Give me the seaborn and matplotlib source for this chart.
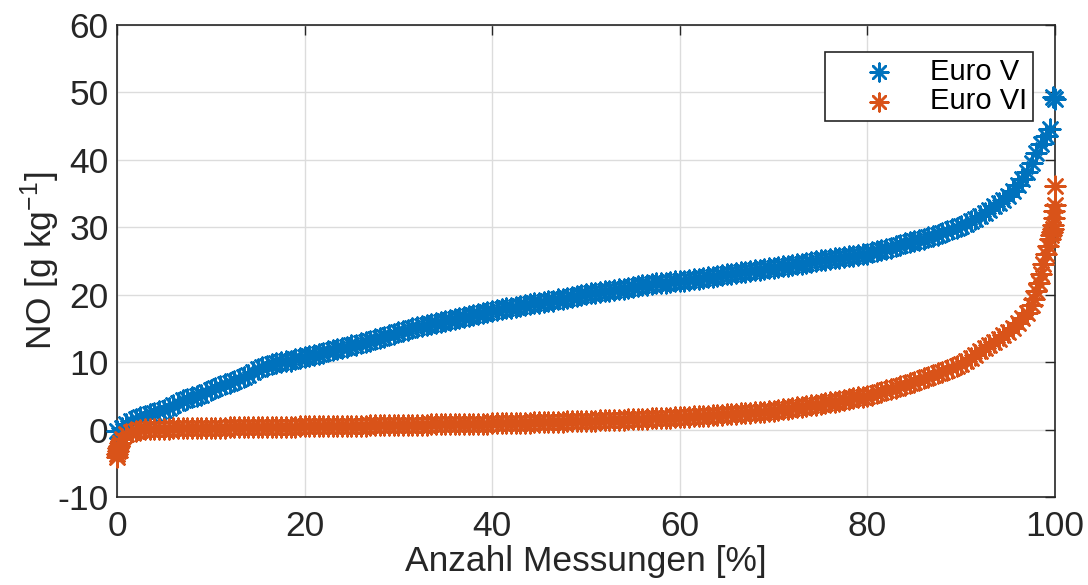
import numpy as np
import pandas as pd
import matplotlib
matplotlib.use("Agg")
import matplotlib.pyplot as plt
import seaborn as sns

# ---------------- data ----------------
series_names = ["Euro V", "Euro VI"]

# Euro V: sorted NO values at 0.5 % steps of "Anzahl Messungen" (0 ... 100 %)
euro5_values = [
    -0.2, 0.3, 0.8, 1.2, 1.5, 1.8, 2.0, 2.3, 2.5, 2.7,
    2.9, 3.2, 3.6, 4.0, 4.4, 4.6, 4.8, 5.0, 5.2, 5.5,
    5.8, 6.1, 6.4, 6.7, 6.9, 7.2, 7.5, 7.8, 8.1, 8.6,
    9.0, 9.3, 9.5, 9.7, 9.8, 10.0, 10.1, 10.2, 10.4, 10.6,
    10.8, 10.9, 11.1, 11.2, 11.4, 11.6, 11.8, 11.9, 12.1, 12.3,
    12.5, 12.6, 12.8, 13.0, 13.2, 13.4, 13.6, 13.8, 14.0, 14.2,
    14.4, 14.6, 14.8, 15.0, 15.2, 15.3, 15.5, 15.6, 15.8, 15.9,
    16.1, 16.2, 16.4, 16.5, 16.7, 16.8, 17.0, 17.2, 17.3, 17.5,
    17.6, 17.7, 17.9, 18.0, 18.1, 18.2, 18.4, 18.5, 18.6, 18.7,
    18.8, 18.9, 19.0, 19.1, 19.3, 19.4, 19.5, 19.6, 19.8, 19.9,
    20.1, 20.2, 20.3, 20.4, 20.5, 20.6, 20.7, 20.8, 20.9, 21.0,
    21.2, 21.3, 21.4, 21.5, 21.6, 21.7, 21.7, 21.8, 21.9, 22.0,
    22.0, 22.1, 22.2, 22.3, 22.4, 22.5, 22.6, 22.7, 22.8, 22.9,
    23.0, 23.1, 23.2, 23.3, 23.4, 23.5, 23.6, 23.7, 23.8, 23.9,
    24.0, 24.1, 24.2, 24.3, 24.4, 24.5, 24.6, 24.7, 24.9, 25.0,
    25.1, 25.2, 25.3, 25.4, 25.5, 25.6, 25.7, 25.8, 25.9, 26.0,
    26.1, 26.3, 26.5, 26.6, 26.8, 27.0, 27.2, 27.4, 27.6, 27.8,
    28.0, 28.1, 28.3, 28.5, 28.7, 28.9, 29.2, 29.4, 29.7, 29.9,
    30.2, 30.5, 30.9, 31.3, 31.7, 32.1, 32.6, 33.1, 33.6, 34.1,
    34.7, 35.4, 36.2, 37.1, 38.2, 39.5, 41.0, 42.3, 43.6, 44.6,
    49.0,
]
euro5_tail_pct = [99.8]
euro5_tail_values = [49.3]

# Euro VI: lowest values (sharp start at 0 %)
euro6_head_pct = [0.0, 0.05, 0.1, 0.15, 0.2, 0.3]
euro6_head_values = [-4.0, -3.6, -3.2, -2.8, -2.4, -2.0]
# Euro VI: sorted NO values at 0.5 % steps from 0.5 % to 99.5 %
euro6_values = [
    -1.4, -0.7, -0.35, -0.15, -0.05, 0.02, 0.06, 0.09, 0.12,
    0.14, 0.16, 0.18, 0.2, 0.21, 0.22, 0.23, 0.24, 0.25, 0.26,
    0.27, 0.28, 0.29, 0.3, 0.31, 0.32, 0.33, 0.34, 0.35, 0.36,
    0.37, 0.38, 0.39, 0.4, 0.41, 0.42, 0.43, 0.44, 0.45, 0.46,
    0.47, 0.48, 0.49, 0.5, 0.51, 0.52, 0.53, 0.54, 0.55, 0.56,
    0.57, 0.58, 0.59, 0.6, 0.61, 0.62, 0.63, 0.64, 0.65, 0.66,
    0.67, 0.68, 0.7, 0.71, 0.72, 0.73, 0.74, 0.76, 0.77, 0.78,
    0.79, 0.8, 0.82, 0.83, 0.84, 0.85, 0.87, 0.88, 0.89, 0.9,
    0.92, 0.93, 0.95, 0.96, 0.98, 0.99, 1.01, 1.02, 1.04, 1.06,
    1.08, 1.1, 1.12, 1.14, 1.16, 1.18, 1.2, 1.22, 1.24, 1.26,
    1.28, 1.3, 1.32, 1.35, 1.37, 1.4, 1.42, 1.45, 1.48, 1.5,
    1.53, 1.56, 1.59, 1.62, 1.65, 1.68, 1.71, 1.74, 1.77, 1.8,
    1.84, 1.88, 1.92, 1.96, 2.0, 2.04, 2.08, 2.12, 2.16, 2.2,
    2.25, 2.3, 2.35, 2.4, 2.45, 2.5, 2.56, 2.62, 2.68, 2.74,
    2.8, 2.9, 3.0, 3.1, 3.2, 3.3, 3.4, 3.5, 3.6, 3.7,
    3.8, 3.92, 4.04, 4.16, 4.28, 4.4, 4.52, 4.64, 4.76, 4.88,
    5.0, 5.2, 5.4, 5.6, 5.8, 6.0, 6.2, 6.4, 6.65, 6.9,
    7.1, 7.35, 7.6, 7.85, 8.1, 8.35, 8.6, 8.85, 9.1, 9.4,
    9.7, 10.1, 10.6, 11.1, 11.7, 12.1, 12.6, 13.0, 13.5, 14.0,
    14.5, 15.1, 15.8, 16.5, 17.3, 18.5, 20.5, 23.0, 26.0, 28.3,
]
# Euro VI: highest values (steep rise and outliers near 100 %)
euro6_tail_pct = [97.75, 98.25, 98.75, 99.25, 99.6, 99.7, 99.75, 99.8, 99.85, 99.9, 99.95, 100.0]
euro6_tail_values = [19.4, 21.7, 24.5, 27.2, 28.8, 29.3, 29.8, 30.3, 31.4, 32.4, 33.3, 36.1]

x_ticks = [0, 20, 40, 60, 80, 100]
y_ticks = [-10, 0, 10, 20, 30, 40, 50, 60]
x_label = "Anzahl Messungen [%]"
y_label = "NO [g kg$^{-1}$]"

# ---------------- build tables ----------------
euro5_pct = list(np.linspace(0, 100, len(euro5_values))) + euro5_tail_pct
euro5_all = euro5_values + euro5_tail_values
euro6_pct = euro6_head_pct + list(np.linspace(0.5, 99.5, len(euro6_values))) + euro6_tail_pct
euro6_all = euro6_head_values + euro6_values + euro6_tail_values

df5 = pd.DataFrame({"pct": euro5_pct, "NO": euro5_all, "Serie": series_names[0]})
df6 = pd.DataFrame({"pct": euro6_pct, "NO": euro6_all, "Serie": series_names[1]})

# ---------------- styling ----------------
sns.set_theme(style="white")
plt.rcParams["font.family"] = ["Liberation Sans", "DejaVu Sans"]
plt.rcParams["mathtext.default"] = "regular"
plt.rcParams["axes.unicode_minus"] = False

dark = "#262626"
colors = {"Euro V": "#0072BD", "Euro VI": "#D95319"}
ast = (8, 2, 0)

fig = plt.figure(figsize=(10.88, 5.85), dpi=100)
ax = fig.add_axes([0.1075, 0.1504, 0.8622, 0.8069])

for df in (df5, df6):
    name = df["Serie"].iloc[0]
    sns.scatterplot(data=df, x="pct", y="NO", ax=ax, marker=ast, s=200,
                    color=colors[name], linewidth=1.8, label=name,
                    clip_on=False, zorder=3)

ax.set_xlim(0, 100)
ax.set_ylim(-10, 60)
ax.set_xticks(x_ticks)
ax.set_yticks(y_ticks)
ax.set_xlabel(x_label, fontsize=25.5, color=dark, labelpad=2)
ax.set_ylabel(y_label, fontsize=25.5, color=dark, labelpad=-3)

ax.grid(True, color="#dcdcdc", linewidth=1.0)
ax.set_axisbelow(True)
ax.tick_params(axis="both", which="both", direction="in", length=7, width=1.0,
               colors=dark, labelsize=25.5, top=True, right=True)
ax.tick_params(axis="x", pad=9)
ax.tick_params(axis="y", pad=6)
for sp in ax.spines.values():
    sp.set_visible(True)
    sp.set_color(dark)
    sp.set_linewidth(1.2)

leg = ax.legend(loc="upper right", bbox_to_anchor=(0.976, 0.943), fontsize=21,
                frameon=True, fancybox=False, framealpha=1, edgecolor=dark,
                borderpad=0.2, handletextpad=0.1, labelspacing=0.05,
                handlelength=3.3, borderaxespad=0.0, markerscale=0.9)
leg.get_frame().set_linewidth(1.2)
for t in leg.get_texts():
    t.set_color("black")

fig.savefig("out.png", dpi=100)
